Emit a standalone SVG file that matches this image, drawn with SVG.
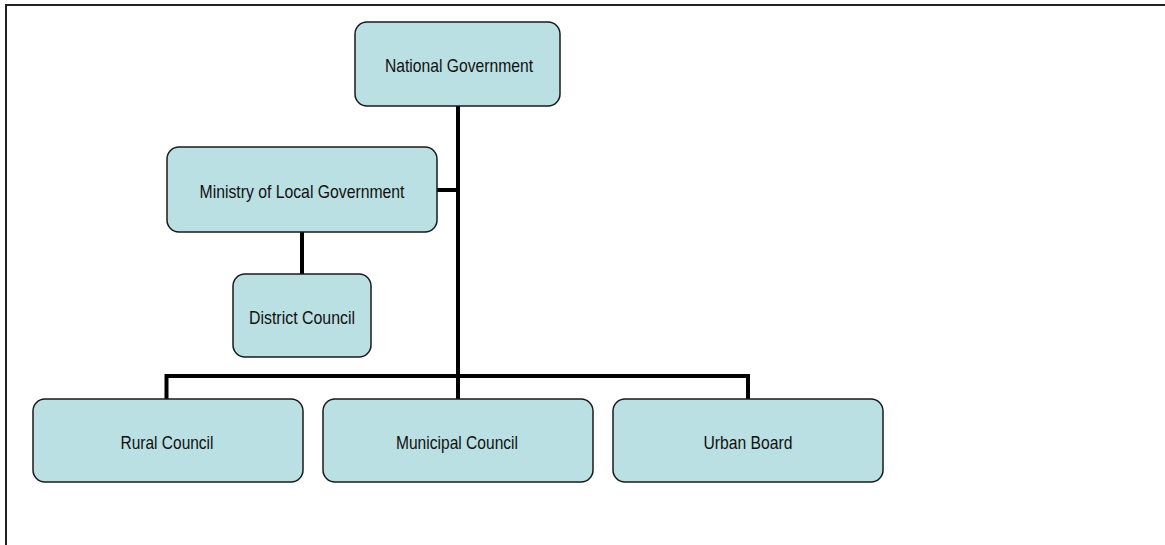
<svg xmlns="http://www.w3.org/2000/svg" width="1165" height="545" viewBox="0 0 1165 545">
<style>
.box{fill:#bbe0e3;stroke:#1a1a1a;stroke-width:1.5}
.lbl{font-family:"Liberation Sans Narrow","Arial Narrow","Liberation Sans",Arial,sans-serif;font-size:19px;fill:#111;text-anchor:middle}
.con{stroke:#000;stroke-width:4;fill:none}
.frame{stroke:#222;stroke-width:2;fill:none}
</style>
<rect x="0" y="0" width="1165" height="545" fill="#fff"/>
<path class="frame" d="M6,545 V5 H1165"/>
<g id="connectors">
<path class="con" d="M458,106 V376"/>
<path class="con" d="M437,190 H458"/>
<path class="con" d="M302,232 V274"/>
<path class="con" d="M166.5,399 V376 H748 V399"/>
<path class="con" d="M458,376 V399"/>
</g>
<g id="national"><rect class="box" x="355" y="22" width="205" height="84" rx="12"/><text class="lbl" x="459" y="72" textLength="148" lengthAdjust="spacingAndGlyphs">National Government</text></g>
<g id="ministry"><rect class="box" x="167" y="147" width="270" height="85" rx="12"/><text class="lbl" x="302" y="198" textLength="205" lengthAdjust="spacingAndGlyphs">Ministry of Local Government</text></g>
<g id="district"><rect class="box" x="233" y="274" width="138" height="83" rx="12"/><text class="lbl" x="302" y="324" textLength="106" lengthAdjust="spacingAndGlyphs">District Council</text></g>
<g id="rural"><rect class="box" x="33" y="399" width="270" height="83" rx="12"/><text class="lbl" x="167" y="449" textLength="93" lengthAdjust="spacingAndGlyphs">Rural Council</text></g>
<g id="municipal"><rect class="box" x="323" y="399" width="270" height="83" rx="12"/><text class="lbl" x="457" y="449" textLength="122" lengthAdjust="spacingAndGlyphs">Municipal Council</text></g>
<g id="urban"><rect class="box" x="613" y="399" width="270" height="83" rx="12"/><text class="lbl" x="748" y="449" textLength="89" lengthAdjust="spacingAndGlyphs">Urban Board</text></g>
</svg>
